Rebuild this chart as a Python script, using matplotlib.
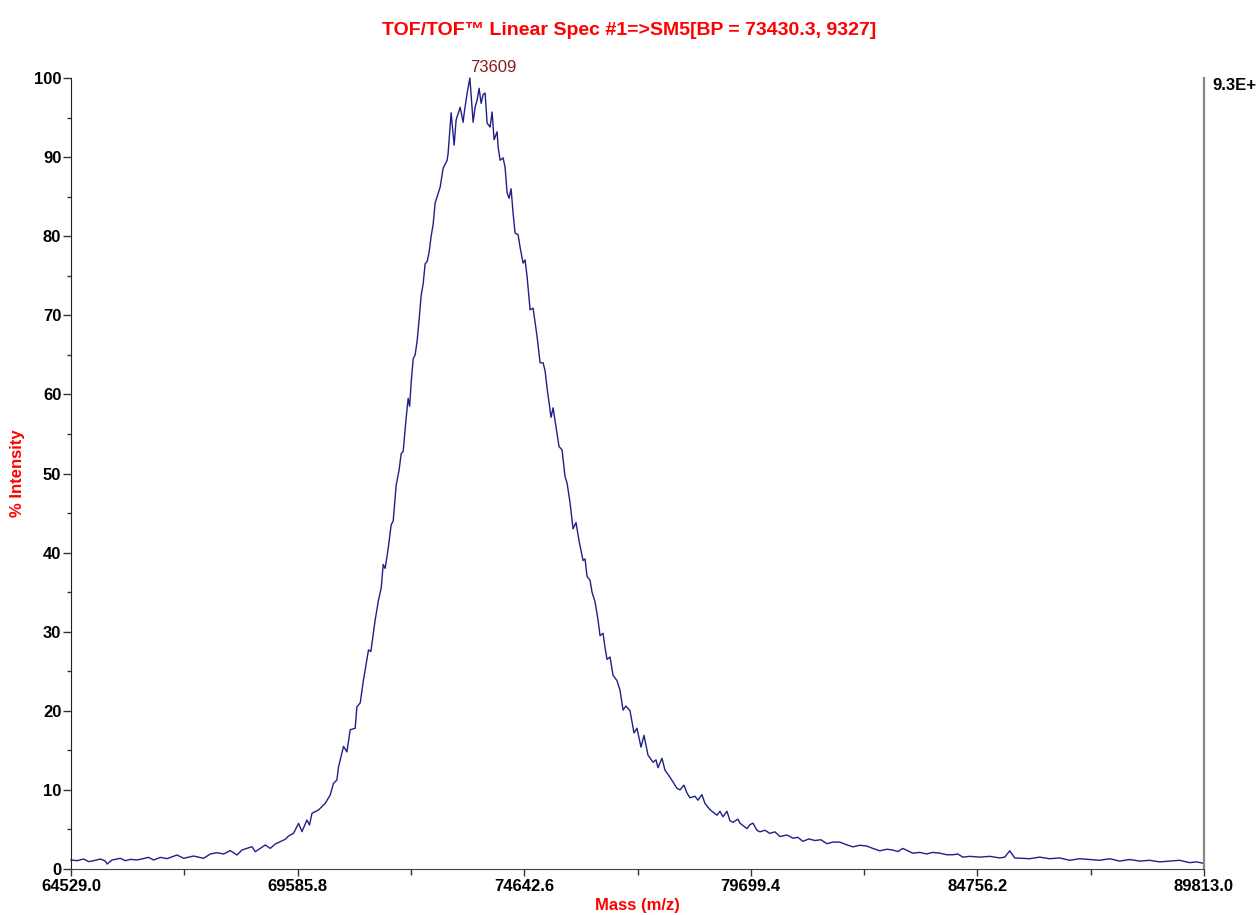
import matplotlib
matplotlib.use("Agg")
import matplotlib.pyplot as plt
from matplotlib.ticker import MultipleLocator, AutoMinorLocator

plt.rcParams['font.family'] = ['Liberation Sans Narrow', 'Liberation Sans', 'DejaVu Sans']

# spectrum: mass (m/z) and % intensity
mass = [
    64529, 64665, 64812, 64924, 65035, 65185, 65296, 65334, 65446, 65631,
    65742, 65854, 66003, 66262, 66373, 66523, 66672, 66895, 67042, 67265,
    67488, 67638, 67787, 67934, 68084, 68233, 68345, 68456, 68568, 68641,
    68753, 68864, 68976, 69087, 69199, 69310, 69384, 69495, 69607, 69683,
    69794, 69852, 69906, 70053, 70202, 70314, 70387, 70463,
    70499, 70610, 70686, 70760, 70871, 70909, 70983, 71056, 71168, 71221,
    71317, 71391, 71451, 71496, 71540, 71607, 71674, 71719, 71785, 71852,
    71897, 71942, 72008, 72053, 72086, 72120, 72165, 72209, 72254, 72298,
    72343, 72388, 72432, 72477, 72521, 72566, 72611, 72655, 72700, 72767,
    72834, 72923, 72945, 73012, 73079, 73123, 73213, 73280, 73302, 73369,
    73430, 73503, 73547, 73592, 73636, 73681, 73726, 73770, 73815, 73882,
    73926, 73971, 74038, 74060, 74105, 74172, 74216, 74261, 74305, 74350,
    74395, 74439, 74506, 74551, 74618, 74662, 74707, 74774, 74841, 74930,
    74997, 75064, 75108, 75153, 75242, 75287, 75353, 75420, 75487, 75554,
    75599, 75666, 75733, 75799, 75866, 75956, 76000, 76045, 76112, 76156,
    76223, 76290, 76335, 76402, 76446, 76491, 76558, 76625, 76714, 76781,
    76848, 76914, 77004, 77093, 77160, 77249, 77316, 77405, 77517, 77583,
    77628, 77717, 77784, 77896, 77985, 78052, 78119, 78208, 78275, 78342,
    78453, 78520, 78609, 78676, 78788, 78855, 78944, 79011, 79078, 79167,
    79234, 79301, 79412, 79457, 79613, 79680, 79747, 79836, 79903, 80014,
    80126, 80237, 80349, 80505, 80639, 80750, 80862, 80995, 81129, 81263,
    81397, 81531, 81687, 81820, 81977, 82133, 82289, 82423, 82579, 82735,
    82869, 82980, 83092, 83203, 83315, 83471, 83627, 83761, 83917, 84073,
    84207, 84318, 84430, 84586, 84809, 85032, 85255, 85366, 85478, 85589,
    85924, 86147, 86370, 86593, 86816, 87039, 87262, 87485, 87708, 87931,
    88154, 88377, 88600, 88823, 89046, 89269, 89492, 89648, 89813,
]
intensity = [
    1.14, 1.05, 1.26, 0.93, 1.05, 1.26, 1.01, 0.63, 1.14, 1.35,
    1.05, 1.22, 1.14, 1.47, 1.14, 1.47, 1.31, 1.77, 1.35, 1.64,
    1.35, 1.90, 2.06, 1.90, 2.32, 1.77, 2.40, 2.61, 2.82, 2.19,
    2.61, 3.03, 2.61, 3.16, 3.46, 3.75, 4.17, 4.51, 5.77, 4.72,
    6.19, 5.56, 7.04, 7.46, 8.30, 9.36, 10.83, 11.25,
    12.9, 15.5, 14.8, 17.6, 17.8, 20.5, 21.0, 23.9, 27.7, 27.5,
    31.5, 34.0, 35.5, 38.5, 38.0, 40.5, 43.5, 44.0, 48.5, 50.5,
    52.5, 52.8, 57.0, 59.5, 58.5, 61.5, 64.5, 65.0, 66.8, 69.5,
    72.5, 74.0, 76.5, 76.8, 78.0, 80.0, 81.5, 84.2, 85.0, 86.2,
    88.6, 89.6, 90.5, 95.6, 91.5, 94.7, 96.3, 94.4, 95.5, 98.1,
    100.0, 94.4, 96.3, 97.2, 98.7, 96.8, 97.9, 98.1, 94.3, 93.8,
    95.7, 92.2, 93.2, 91.3, 89.6, 89.9, 88.7, 85.5, 84.8, 86.0,
    82.9, 80.4, 80.2, 78.6, 76.6, 77.0, 74.9, 70.7, 70.9, 67.3,
    64.0, 64.0, 63.0, 60.8, 57.1, 58.3, 55.9, 53.4, 53.0, 49.6,
    48.8, 46.3, 43.0, 43.8, 41.5, 39.0, 39.2, 37.0, 36.5, 35.0,
    33.8, 31.5, 29.5, 29.8, 28.0, 26.5, 26.8, 24.5, 23.8, 22.6,
    20.1, 20.6, 20.0, 17.2, 17.8, 15.4, 16.9, 14.4, 13.5, 13.8,
    12.8, 14.0, 12.5, 11.6, 10.8, 10.2, 10.0, 10.6, 9.6, 9.0,
    9.2, 8.7, 9.4, 8.3, 7.5, 7.2, 6.8, 7.3, 6.6, 7.3,
    6.1, 5.9, 6.3, 5.8, 5.1, 5.6, 5.8, 4.9, 4.7, 4.9,
    4.5, 4.7, 4.1, 4.3, 3.9, 4.0, 3.5, 3.8, 3.6, 3.7,
    3.2, 3.4, 3.4, 3.1, 2.8, 3.0, 2.9, 2.6, 2.3, 2.5,
    2.4, 2.2, 2.6, 2.3, 2.0, 2.1, 1.9, 2.1, 2.0, 1.8,
    1.8, 1.9, 1.5, 1.6, 1.5, 1.6, 1.4, 1.5, 2.3, 1.4,
    1.3, 1.5, 1.3, 1.4, 1.1, 1.3, 1.2, 1.1, 1.3, 1.0,
    1.2, 1.0, 1.1, 0.9, 1.0, 1.1, 0.8, 0.9, 0.7,
]

x_ticks = [64529.0, 69585.8, 74642.6, 79699.4, 84756.2, 89813.0]
x_tick_labels = ['64529.0', '69585.8', '74642.6', '79699.4', '84756.2', '89813.0']
peak_mass = 73430.3
peak_label = '73609'
scale_label = '9.3E+'
title = 'TOF/TOF\u2122 Linear Spec #1=>SM5[BP = 73430.3, 9327]'

fig = plt.figure(figsize=(12.58, 9.15), dpi=100)
ax = fig.add_axes([71 / 1258, 1 - 869 / 915, 1133 / 1258, 791 / 915])

ax.plot(mass, intensity, color='#1f1f88', linewidth=1.0, clip_on=False)

ax.set_xlim(x_ticks[0], x_ticks[-1])
ax.set_ylim(0, 100)

ax.set_xticks(x_ticks)
ax.set_xticklabels(x_tick_labels)
ax.xaxis.set_minor_locator(AutoMinorLocator(2))
ax.yaxis.set_major_locator(MultipleLocator(10))
ax.yaxis.set_minor_locator(MultipleLocator(5))

ax.tick_params(axis='both', which='major', labelsize=12, width=1, color='#333333')
ax.tick_params(axis='x', which='major', length=5, pad=2)
ax.tick_params(axis='x', which='minor', length=4, width=1, color='#333333')
ax.tick_params(axis='y', which='major', length=6, pad=1)
ax.tick_params(axis='y', which='minor', length=3, width=1, color='#333333')
for lab in ax.get_xticklabels() + ax.get_yticklabels():
    lab.set_fontweight('bold')

ax.spines['top'].set_visible(False)
ax.spines['left'].set_color('#222222')
ax.spines['bottom'].set_color('#444444')
ax.spines['right'].set_color('#888888')
ax.spines['right'].set_linewidth(1.6)

ax.set_xlabel('Mass (m/z)', color='red', fontweight='bold', fontsize=12)
ax.xaxis.set_label_coords(0.5, -0.037)
ax.set_ylabel('% Intensity', color='red', fontweight='bold', fontsize=12)
ax.yaxis.set_label_coords(-0.041, 0.5)

ax.text(peak_mass, 100.4, peak_label, color='#8b1a1a', fontsize=12,
        ha='left', va='bottom', clip_on=False)
ax.text(1.007, 0.99, scale_label, transform=ax.transAxes, fontsize=12,
        fontweight='bold', ha='left', va='center', clip_on=False)

fig.suptitle(title, color='red', fontweight='bold', fontsize=14, y=0.976)

fig.savefig('out.png', dpi=100)
